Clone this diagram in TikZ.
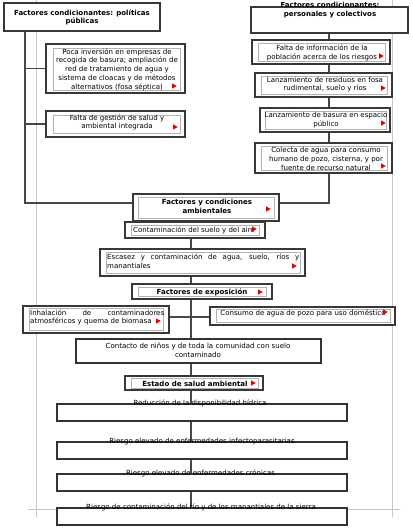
\documentclass[tikz,border=0pt]{standalone}
\usepackage{fontspec}
\setmainfont{DejaVu Sans}
\usetikzlibrary{fit,backgrounds}
\newcommand\rflag[2]{\path[flagmark] (#1,#2) +(-2,-2.7) -- +(2.7,0) -- +(-2,2.7) -- cycle;}
\begin{document}
\begin{tikzpicture}[x=1bp,y=-1bp,
  outer/.style={draw=black!78, line width=1.35bp, fill=white, inner sep=0pt},
  innerb/.style={draw=black!30, line width=0.5bp, inner sep=0pt},
  plainb/.style={draw=black!80, line width=1.2bp, fill=white, inner sep=0pt},
  conn/.style={draw=black!72, line width=1.3bp},
  pagel/.style={draw=black!22, line width=0.7bp},
  txt/.style={font=\fontsize{7.05}{8.8}\selectfont, align=center, inner sep=0pt},
  btxt/.style={font=\fontsize{7.05}{8.8}\selectfont\bfseries, align=center, inner sep=0pt},
  flagmark/.style={fill=red!90!black, draw=none}]
\useasboundingbox (0,0) rectangle (412,529);

% boxes
\node[outer, fit={(4,3)(160,31)}] (A) {};
\node[outer, fit={(46,44)(185,93)}] (B) {};
\node[innerb, fit={(53,48)(180,90)}] (Bi) {};
\node[outer, fit={(46,111)(185,137)}] (C) {};
\node[innerb, fit={(53,115)(180,133)}] (Ci) {};
\node[outer, fit={(251,7)(408,33)}] (D) {};
\node[outer, fit={(252,40)(390,64)}] (E) {};
\node[innerb, fit={(258,43)(385,61)}] (Ei) {};
\node[outer, fit={(255,73)(392,97)}] (F) {};
\node[innerb, fit={(261,76)(387,94)}] (Fi) {};
\node[outer, fit={(260,108)(390,132)}] (G) {};
\node[innerb, fit={(265,111)(386,129)}] (Gi) {};
\node[outer, fit={(255,143)(392,173)}] (H) {};
\node[innerb, fit={(261,146)(387,170)}] (Hi) {};
\node[outer, fit={(133,194)(279,221)}] (I) {};
\node[innerb, fit={(138,197)(274,218)}] (Ii) {};
\node[outer, fit={(125,222)(265,238)}] (J) {};
\node[innerb, fit={(131,225)(259,235)}] (Ji) {};
\node[outer, fit={(100,249)(305,276)}] (K) {};
\node[innerb, fit={(106,252)(300,273)}] (Ki) {};
\node[outer, fit={(132,284)(272,299)}] (L) {};
\node[innerb, fit={(138,287)(266,296)}] (Li) {};
\node[outer, fit={(23,306)(169,333)}] (M) {};
\node[innerb, fit={(29,308)(163,330)}] (Mi) {};
\node[outer, fit={(210,307)(395,325)}] (N) {};
\node[innerb, fit={(216,309)(390,322)}] (Ni) {};
\node[plainb, fit={(76,339)(321,363)}] (O) {};
\node[outer, fit={(125,376)(263,390)}] (P) {};
\node[innerb, fit={(131,378)(258,388)}] (Pi) {};
\node[plainb, fit={(57,404)(347,421)}] (Q) {};
\node[plainb, fit={(57,442)(347,459)}] (R) {};
\node[plainb, fit={(57,474)(347,491)}] (S) {};
\node[plainb, fit={(57,508)(347,525)}] (T) {};

% background: page lines and connectors
\begin{scope}[on background layer]
  \coordinate (pl1) at (36,0);  \coordinate (pl2) at (36,517);
  \coordinate (pr1) at (392,0); \coordinate (pr2) at (392,517);
  \coordinate (ph1) at (28,509); \coordinate (ph2) at (400,509);
  \draw[pagel] (pl1) -- (pl2);
  \draw[pagel] (pr1) -- (pr2);
  \draw[pagel] (ph1) -- (ph1 -| T.west);
  \draw[pagel] (ph2) -- (ph2 -| T.east);
  \coordinate (aX) at (25,0);
  \coordinate (dX) at (329,0);
  \coordinate (cX) at (191,0);
  \coordinate (mn) at (0,317);
  \draw[conn] (A.south -| aX) |- ([yshift=4.5bp]I.west);
  \draw[conn] (B.west -| aX) -- (B.west);
  \draw[conn] (C.west -| aX) -- (C.west);
  \draw[conn] (D.south -| dX) |- ([yshift=4.5bp]I.east);
  \draw[conn] (J.south -| cX) -- (T.north -| cX);
  \draw[conn] (M.east |- mn) -- (N.west |- mn);
\end{scope}

% texts
\node[btxt] (tA) at (82,17.5) {Factores condicionantes: políticas\\públicas};
\node[txt] (tB) at (117,69.5) {Poca inversión en empresas de\\recogida de basura; ampliación de\\red de tratamiento de agua y\\sistema de cloacas y de métodos\\alternativos (fosa séptica)};
\node[txt] (tC) at (117,122.5) {Falta de gestión de salud y\\ambiental integrada};
\node[btxt] (tD) at (330,10) {Factores condicionantes:\\personales y colectivos};
\node[txt] (tE) at (322,53) {Falta de información de la\\población acerca de los riesgos};
\node[txt] (tF) at (325,84.5) {Lanzamiento de residuos en fosa\\rudimental, suelo y ríos};
\node[txt] (tG) at (326,120) {Lanzamiento de basura en espacio\\público};
\node[txt] (tH) at (326,159) {Colecta de agua para consumo\\humano de pozo, cisterna, y por\\fuente de recurso natural};
\node[btxt] (tI) at (207,206.5) {Factores y condiciones\\ambientales};
\node[txt, anchor=west] (tJ) at (133,230) {Contaminación del suelo y del aire};
\node[txt, anchor=west, align=left] (tK) at (107,261.5) {\makebox[192bp][s]{Escasez y contaminación de agua, suelo, ríos y}\\manantiales};
\node[btxt] (tL) at (202,292) {Factores de exposición};
\node[txt, anchor=west, align=left] (tM) at (30,317.5) {\makebox[134bp][s]{Inhalación de contaminadores}\\atmosféricos y quema de biomasa};
\node[txt] (tN) at (303,313.5) {Consumo de agua de pozo para uso doméstico};
\node[txt] (tO) at (198,350.5) {Contacto de niños y de toda la comunidad con suelo\\contaminado};
\node[btxt] (tP) at (195,383.5) {Estado de salud ambiental};
\node[txt] (tQ) at (200,403) {Reducción de la disponibilidad hídrica};
\node[txt] (tR) at (202,441.5) {Riesgo elevado de enfermedades infectoparasitarias};
\node[txt] (tS) at (200.5,473) {Riesgo elevado de enfermedades crónicas};
\node[txt] (tT) at (201,507.5) {Riesgo de contaminación del río y de los manantiales de la sierra};

% red markers
\rflag{174}{86}
\rflag{175}{127}
\rflag{381}{56}
\rflag{383}{88}
\rflag{383}{123}
\rflag{383}{166}
\rflag{268}{209}
\rflag{254}{229}
\rflag{294}{266}
\rflag{260}{292}
\rflag{158}{321}
\rflag{385}{312}
\rflag{253}{383}
\end{tikzpicture}
\end{document}
